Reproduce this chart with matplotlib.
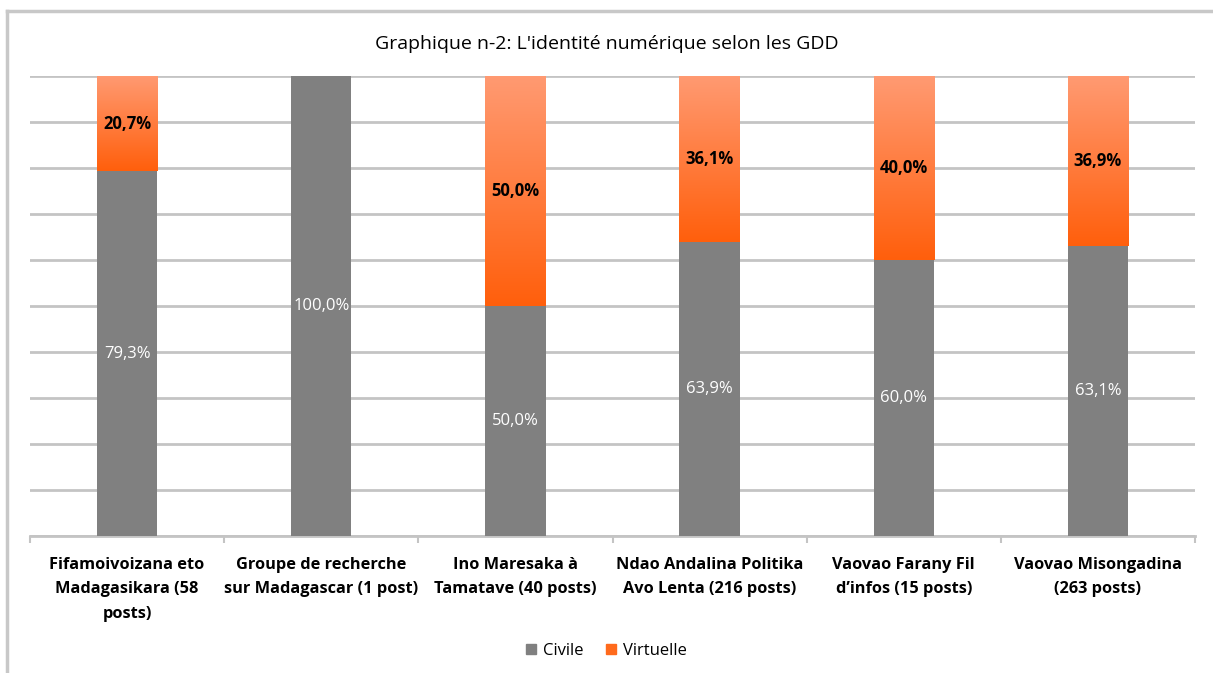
import numpy as np
import matplotlib
matplotlib.use("Agg")
import matplotlib.pyplot as plt
from matplotlib.colors import LinearSegmentedColormap
from matplotlib.patches import Rectangle
from matplotlib.lines import Line2D

plt.rcParams['font.family'] = ['Open Sans', 'DejaVu Sans']

categories = ["Fifamoivoizana eto\nMadagasikara (58\nposts)",
              "Groupe de recherche\nsur Madagascar (1 post)",
              "Ino Maresaka à\nTamatave (40 posts)",
              "Ndao Andalina Politika\nAvo Lenta (216 posts)",
              "Vaovao Farany Fil\nd\u2019infos (15 posts)",
              "Vaovao Misongadina\n(263 posts)"]
civile = [79.3, 100.0, 50.0, 63.9, 60.0, 63.1]
virtuelle = [20.7, 0.0, 50.0, 36.1, 40.0, 36.9]

grey = '#808080'
orange = '#ff6a1c'
orange_cmap = LinearSegmentedColormap.from_list('org', ['#ff5f0c', '#ff9a72'])

fig = plt.figure(figsize=(12.13, 6.73), dpi=100)
ax = fig.add_axes([30 / 1213, 1 - 536 / 673, 1165 / 1213, 460 / 673])

# cadre extérieur (bord gauche et haut seulement visibles)
fig.add_artist(Line2D([7 / 1213, 7 / 1213], [0, 1 - 11 / 673], color='#c8c8c8', lw=2.5,
                      transform=fig.transFigure))
fig.add_artist(Line2D([7 / 1213, 1], [1 - 11 / 673, 1 - 11 / 673], color='#c8c8c8', lw=2.5,
                      transform=fig.transFigure))

x = np.arange(len(categories))
width = 0.31

ax.bar(x, civile, width, color=grey, zorder=3)
vbars = ax.bar(x, virtuelle, width, bottom=civile, color='none', zorder=3)

# dégradé orange sur chaque segment "Virtuelle"
grad = np.linspace(0, 1, 256).reshape(-1, 1)
for rect in vbars:
    h = rect.get_height()
    if h <= 0:
        continue
    x0, y0, w = rect.get_x(), rect.get_y(), rect.get_width()
    im = ax.imshow(grad, extent=[x0, x0 + w, y0, y0 + h], origin='lower',
                   cmap=orange_cmap, aspect='auto', zorder=3)
    im.set_clip_path(Rectangle((x0, y0), w, h, transform=ax.transData))

for i in range(len(categories)):
    ax.text(x[i], civile[i] / 2, f"{civile[i]:.1f}%".replace('.', ','),
            ha='center', va='center', color='white', fontsize=12, zorder=5)
    if virtuelle[i] > 0:
        ax.text(x[i], civile[i] + virtuelle[i] / 2, f"{virtuelle[i]:.1f}%".replace('.', ','),
                ha='center', va='center', color='black', fontsize=12,
                fontweight='bold', zorder=5)

ax.set_xlim(-0.5, len(categories) - 0.5)
ax.set_ylim(0, 100)
ax.set_yticks(np.arange(0, 101, 10))
ax.set_yticklabels([])
ax.tick_params(axis='y', length=0)
ax.yaxis.grid(True, color='#c4c4c4', lw=2, zorder=0)
ax.set_axisbelow(True)

ax.set_xticks(x)
ax.set_xticklabels(categories, fontsize=11.8, fontweight='bold', linespacing=1.7)
ax.tick_params(axis='x', length=0, pad=15)
ax.set_xticks(np.arange(-0.5, len(categories), 1), minor=True)
ax.tick_params(axis='x', which='minor', length=5, color='#c4c4c4', width=1.5)

for s in ['top', 'right', 'left']:
    ax.spines[s].set_visible(False)
ax.spines['bottom'].set_color('#c4c4c4')
ax.spines['bottom'].set_linewidth(2)

fig.text(0.5, 1 - 44 / 673, "Graphique n-2: L'identité numérique selon les GDD",
         ha='center', va='center', fontsize=14)

handles = [Rectangle((0, 0), 1, 1, color=grey), Rectangle((0, 0), 1, 1, color=orange)]
fig.legend(handles, ['Civile', 'Virtuelle'], loc='center', bbox_to_anchor=(0.5, 1 - 651 / 673),
           ncol=2, frameon=False, fontsize=12, handlelength=0.6, handleheight=0.6,
           handletextpad=0.4, columnspacing=1.4)

fig.savefig('out.png', dpi=100, facecolor='white')
